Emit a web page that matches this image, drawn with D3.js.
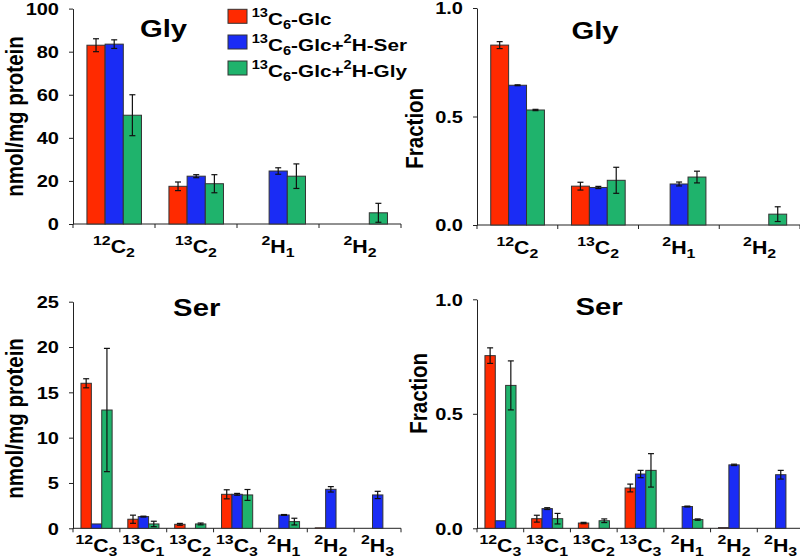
<!DOCTYPE html>
<html>
<head>
<meta charset="utf-8">
<script src="https://cdnjs.cloudflare.com/ajax/libs/d3/7.8.5/d3.min.js"></script>
<style>
  body { margin: 0; background: #fff; }
  svg text { font-family: "Liberation Sans", Arial, sans-serif; font-weight: bold; fill: #000; }
</style>
</head>
<body>
<svg width="800" height="560" id="svg1"></svg>
<script>
// series (legend) labels: [text, "sup" | "sub" | ""]
var seriesLabels = [
  [["13","sup"],["C",""],["6","sub"],["-Glc",""]],
  [["13","sup"],["C",""],["6","sub"],["-Glc+",""],["2","sup"],["H-Ser",""]],
  [["13","sup"],["C",""],["6","sub"],["-Glc+",""],["2","sup"],["H-Gly",""]]
];
var seriesColors = ["#ff2a00", "#1a2cf5", "#1fb36c"];

// isotopologue categories: [superscript, element, subscript]
var glyIsotopes = [["12","C","2"],["13","C","2"],["2","H","1"],["2","H","2"]];
var serIsotopes = [["12","C","3"],["13","C","1"],["13","C","2"],["13","C","3"],["2","H","1"],["2","H","2"],["2","H","3"]];

// Gly, nmol/mg protein
var glyAmtGlc    = [83,   17.5, 0,    0];
var glyAmtGlcErr = [3,    2,    0,    0];
var glyAmtSer    = [83.5, 22.2, 24.6, 0];
var glyAmtSerErr = [2,    0.7,  1.5,  0];
var glyAmtGly    = [50.5, 18.7, 22.2, 5.2];
var glyAmtGlyErr = [9.5,  4.2,  5.7,  4.4];

// Gly, fraction
var glyFracGlc    = [0.829, 0.179, 0,     0];
var glyFracGlcErr = [0.016, 0.018, 0,     0];
var glyFracSer    = [0.644, 0.173, 0.189, 0];
var glyFracSerErr = [0.002, 0.005, 0.009, 0];
var glyFracGly    = [0.53,  0.206, 0.221, 0.05];
var glyFracGlyErr = [0.003, 0.06,  0.027, 0.034];

// Ser, nmol/mg protein
var serAmtGlc    = [16.0, 1.0,  0.44, 3.75, 0,    0.05, 0];
var serAmtGlcErr = [0.5,  0.45, 0.1,  0.5,  0,    0,    0];
var serAmtSer    = [0.48, 1.29, 0,    3.75, 1.47, 4.3,  3.68];
var serAmtSerErr = [0,    0.05, 0,    0.1,  0.05, 0.3,  0.4];
var serAmtGly    = [13.05,0.48, 0.48, 3.68, 0.74, 0,    0];
var serAmtGlyErr = [6.8,  0.3,  0.1,  0.6,  0.37, 0,    0];

// Ser, fraction
var serFracGlc    = [0.754, 0.042, 0.023, 0.176, 0,     0.003, 0];
var serFracGlcErr = [0.034, 0.015, 0.003, 0.017, 0,     0,     0];
var serFracSer    = [0.033, 0.086, 0,     0.237, 0.095, 0.277, 0.234];
var serFracSerErr = [0,     0.004, 0,     0.016, 0.002, 0.003, 0.019];
var serFracGly    = [0.624, 0.042, 0.033, 0.253, 0.038, 0,     0];
var serFracGlyErr = [0.107, 0.023, 0.008, 0.073, 0.003, 0,     0];

var amtTicks = [0, 20, 40, 60, 80, 100];
var serAmtTicks = [0, 5, 10, 15, 20, 25];
var fracTicks = [0, 0.5, 1.0];

var SX = 1.22; // horizontal stretch of the lettering
var svg = d3.select("#svg1");

function richText(sel, parts, big, small) {
  var cur = 0;
  parts.forEach(function(p) {
    var target = p[1] == "sup" ? -8 : (p[1] == "sub" ? 4 : 0);
    sel.append("tspan")
      .attr("dy", target - cur)
      .style("font-size", (p[1] ? small : big) + "px")
      .text(p[0]);
    cur = target;
  });
}

function drawPanel(p) {
  var g = svg.append("g");
  var cats = p.cats.map(function(c) { return c.join(""); });
  var x = d3.scaleBand().domain(cats).range([p.x0, p.x1]).padding(0);
  var bw = x.bandwidth();
  var inner = d3.scaleBand().domain([0, 1, 2]).range([bw * 0.17, bw * 0.835]);
  var y = d3.scaleLinear().domain([0, p.yMax]).range([p.yBase, p.yTop]);

  // y axis
  var ya = g.append("g")
    .attr("transform", "translate(" + p.x0 + ",0)")
    .attr("color", "#222")
    .call(d3.axisLeft(y).tickValues(p.ticks).tickFormat(p.fmt).tickSize(4).tickSizeOuter(0));
  ya.selectAll("text")
    .attr("x", null).attr("dy", null)
    .attr("text-anchor", "end")
    .attr("transform", "translate(-14,5.8) scale(1.25,1)")
    .style("font-size", "16px");

  // x axis with ticks on category boundaries
  var xa = g.append("g").attr("stroke", "#222");
  xa.append("line")
    .attr("x1", p.x0).attr("x2", p.x1)
    .attr("y1", p.yBase).attr("y2", p.yBase);
  var bounds = cats.map(function(c) { return x(c); }).concat([p.x1]);
  xa.selectAll(".tk").data(bounds).enter().append("line")
    .attr("x1", function(d) { return d; }).attr("x2", function(d) { return d; })
    .attr("y1", p.yBase).attr("y2", p.yBase + 4);

  p.cats.forEach(function(c, i) {
    var t = g.append("text")
      .attr("text-anchor", "middle")
      .attr("transform", "translate(" + (x(cats[i]) + bw / 2) + "," + (p.yBase + p.labelDy) + ") scale(" + SX + ",1)");
    richText(t, [[c[0], "sup"], [c[1], ""], [c[2], "sub"]], 17.5, 13);
  });

  // bars
  p.values.forEach(function(vals, s) {
    g.selectAll(".bar" + s).data(vals).enter()
      .append("rect")
      .attr("class", "bar" + s)
      .attr("display", function(d) { return d > 0 ? null : "none"; })
      .attr("x", function(d, i) { return x(cats[i]) + inner(s); })
      .attr("y", function(d) { return y(d); })
      .attr("width", inner.bandwidth())
      .attr("height", function(d) { return p.yBase - y(d); })
      .attr("fill", seriesColors[s])
      .attr("stroke", "#333")
      .attr("stroke-width", 1);
  });

  // error bars
  p.values.forEach(function(vals, s) {
    vals.forEach(function(v, i) {
      var e = p.errors[s][i];
      if (!e) return;
      var cx = x(cats[i]) + inner(s) + inner.bandwidth() / 2;
      var lo = y(Math.max(0, v - e)), hi = y(v + e);
      var eg = g.append("g").attr("stroke", "#111").attr("stroke-width", 1.2);
      eg.append("line").attr("x1", cx).attr("x2", cx).attr("y1", hi).attr("y2", lo);
      eg.append("line").attr("x1", cx - 3).attr("x2", cx + 3).attr("y1", hi).attr("y2", hi);
      eg.append("line").attr("x1", cx - 3).attr("x2", cx + 3).attr("y1", lo).attr("y2", lo);
    });
  });

  // title
  g.append("text")
    .attr("text-anchor", "middle")
    .attr("transform", "translate(" + p.titleX + "," + p.titleY + ") scale(" + SX + ",1)")
    .style("font-size", "24px")
    .text(p.title);

  // y label
  g.append("text")
    .attr("text-anchor", "middle")
    .attr("transform", "translate(" + p.ylabX + "," + p.ylabY + ") scale(1.15,1) rotate(-90)")
    .style("font-size", "20.5px")
    .text(p.ylabel);
}

var fmtInt = d3.format("d"), fmtFrac = d3.format(".1f");

drawPanel({ cats: glyIsotopes, values: [glyAmtGlc, glyAmtSer, glyAmtGly],
  errors: [glyAmtGlcErr, glyAmtSerErr, glyAmtGlyErr], yMax: 100, ticks: amtTicks, fmt: fmtInt,
  x0: 73, x1: 401, yBase: 224, yTop: 8.6, labelDy: 29,
  title: "Gly", titleX: 163.5, titleY: 37, ylabel: "nmol/mg protein", ylabX: 22.5, ylabY: 116.5 });

drawPanel({ cats: glyIsotopes, values: [glyFracGlc, glyFracSer, glyFracGly],
  errors: [glyFracGlcErr, glyFracSerErr, glyFracGlyErr], yMax: 1, ticks: fracTicks, fmt: fmtFrac,
  x0: 477, x1: 800, yBase: 225, yTop: 8, labelDy: 28.5,
  title: "Gly", titleX: 595, titleY: 39, ylabel: "Fraction", ylabX: 423.3, ylabY: 128.3 });

drawPanel({ cats: serIsotopes, values: [serAmtGlc, serAmtSer, serAmtGly],
  errors: [serAmtGlcErr, serAmtSerErr, serAmtGlyErr], yMax: 25, ticks: serAmtTicks, fmt: fmtInt,
  x0: 73, x1: 401, yBase: 528.3, yTop: 301.7, labelDy: 23.4,
  title: "Ser", titleX: 196.7, titleY: 316, ylabel: "nmol/mg protein", ylabX: 22.5, ylabY: 418.4 });

drawPanel({ cats: serIsotopes, values: [serFracGlc, serFracSer, serFracGly],
  errors: [serFracGlcErr, serFracSerErr, serFracGlyErr], yMax: 1, ticks: fracTicks, fmt: fmtFrac,
  x0: 477, x1: 804, yBase: 528.3, yTop: 299.3, labelDy: 23.4,
  title: "Ser", titleX: 599, titleY: 315, ylabel: "Fraction", ylabX: 426.7, ylabY: 393.3 });

// legend
var legendY = [16.3, 42, 68];
var lg = svg.append("g");
seriesLabels.forEach(function(parts, i) {
  lg.append("rect")
    .attr("x", 228).attr("y", legendY[i] - 7)
    .attr("width", 19).attr("height", 14)
    .attr("fill", seriesColors[i]).attr("stroke", "#333");
  var t = lg.append("text")
    .attr("transform", "translate(251.7," + (legendY[i] + 8.7) + ") scale(" + SX + ",1)");
  richText(t, parts, 17, 12);
});
</script>
</body>
</html>
